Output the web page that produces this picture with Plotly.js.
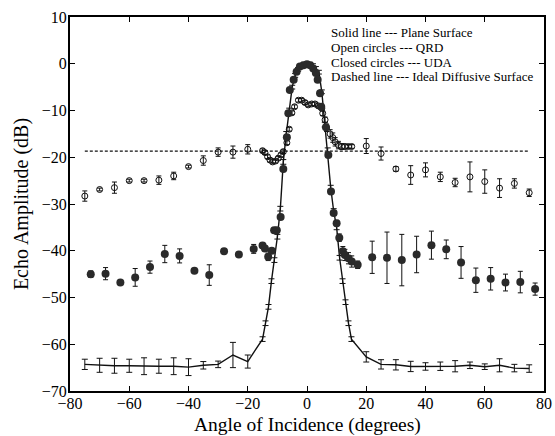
<!DOCTYPE html>
<html>
<head>
<meta charset="utf-8">
<script src="https://cdn.plot.ly/plotly-3.0.1.min.js"></script>
<style>html,body{margin:0;padding:0;background:#fff;}#chart{width:555px;height:436px;}</style>
</head>
<body>
<div id="chart"></div>
<script>
// Plane surface (solid line)
const planeX = [-75,-70,-65,-60,-55,-50,-45,-40,-35,-30,-25,-20,
  -15,-14,-13,-12,-11,-10,-9,-8,-7,-6,-5,-4,-3,-2,-1,0,1,2,3,4,5,6,7,8,9,10,11,12,13,14,15,
  20,25,30,35,40,45,50,55,60,65,70,75];
const planeY = [-64.3,-64.5,-64.6,-64.6,-64.7,-64.7,-64.7,-64.9,-64.5,-64.3,-62.3,-63.7,
  -58.9,-55.5,-52,-46.5,-42,-37,-31,-21,-15,-10,-5,-2.5,-1.2,-0.5,-0.1,0,-0.1,-0.4,-1,-1.8,-6,-13,-18.5,-26.5,-31.5,-35,-41.5,-46.5,-51,-55.5,-58.9,
  -62.7,-64.3,-64.4,-64.75,-64.75,-64.7,-64.7,-64.5,-64.8,-64.5,-65.1,-65.2];
const planeErr = [1.1,1.5,1.6,1.4,1.8,1.5,1.8,1.8,0.8,0.7,2.7,1.4,
  0.5,0.5,0.5,0.5,0.5,0.5,0.5,0.5,0.5,0.5,0.4,0.4,0.4,0.4,0.4,0.4,0.4,0.4,0.4,0.4,0.4,0.5,0.5,0.5,0.5,0.5,0.5,0.5,0.5,0.5,0.5,
  1.1,1.0,1.1,1.1,0.8,0.9,1.2,0.7,0.6,1.4,0.8,0.8];

// QRD (open circles)
const qrdX = [-75,-70,-65,-60,-55,-50,-45,-40,-35,-30,-25,-20,
  -15,-14.2,-13.3,-12.5,-11.6,-10.6,-9.7,-8.8,-8,-6.8,-6,-5.1,-4.2,-2.9,-1.8,-0.7,0.4,1.6,2.7,3.8,5,5.3,6.1,6.6,7.8,8.7,9.5,10.6,11.7,12.8,14,15.1,
  20,25,30,35,40,45,50,55,60,65,70,75];
const qrdY = [-28.3,-26.9,-26.5,-25.0,-25.0,-24.9,-24.0,-22.0,-20.7,-18.9,-18.9,-18.3,
  -18.6,-19,-19.9,-20.6,-21,-20.8,-20.2,-19.5,-18.8,-16.9,-14.0,-10.5,-9.2,-7.8,-7.8,-8.3,-8.8,-8.6,-8.6,-9.0,-9.5,-10.6,-12,-13.7,-15,-15.8,-16.7,-17.4,-17.7,-17.7,-17.7,-17.7,
  -17.6,-19.2,-22.5,-23.8,-22.7,-24.2,-25.4,-24.2,-25.2,-26.6,-25.6,-27.6];
const qrdErr = [1.1,0.3,1.2,0.3,0.3,0.9,0.8,0.3,1.0,0.9,1.3,1.0,
  0.4,0.4,0.4,0.4,0.4,0.4,0.4,0.4,0.4,0.4,0.4,0.4,0.4,0.4,0.4,0.4,0.4,0.4,0.4,0.4,0.4,0.5,0.6,0.8,0.9,1.0,0.9,0.8,0.6,0.5,0.4,0.4,
  1.6,1.4,0.5,2.0,1.5,1.0,0.9,3.2,2.5,2.0,1.0,0.8];

// UDA (closed circles)
const udaX = [-73,-68,-63,-58,-53,-48,-43,-38,-33,-28,-23,-18,
  -15,-14.2,-13.1,-11.9,-11.1,-10.2,-8.9,-8,-6.8,-6.3,-5.8,-4.5,-3.5,-2.4,-1.2,0,1.1,2.1,3,3.6,4.4,4.8,6.4,7.2,8.1,9,10,10.9,12.1,12.8,14,15.1,17.1,
  22,27,32,37,42,47,52,57,62,67,72,77];
const udaY = [-45.0,-44.9,-46.8,-45.7,-43.5,-40.7,-41.1,-44.3,-45.2,-40.1,-40.8,-39.6,
  -38.9,-39.5,-41.3,-40,-35.6,-35.6,-32.8,-22.5,-15.7,-10.6,-5.6,-3.4,-1.7,-0.6,-0.3,-0.1,-0.3,-1,-2,-3.4,-6.3,-9.2,-13.6,-19.5,-27.3,-31.9,-34.1,-37.2,-40.1,-40.9,-41.6,-42.3,-43.0,
  -41.4,-41.5,-42.0,-40.8,-38.8,-39.7,-42.5,-46.3,-46.0,-46.8,-46.7,-48.2];
const udaErr = [0.7,1.3,0.3,1.9,1.3,1.85,1.5,0.3,2.2,0.3,0.3,0.95,
  0.6,0.6,0.8,0.5,0.4,0.4,0.4,0.4,0.4,0.4,0.4,0.3,0.3,0.3,0.3,0.3,0.3,0.3,0.3,0.3,0.3,0.3,0.4,0.4,0.4,0.5,0.6,0.8,1.0,1.2,1.2,1.2,0.8,
  3.45,5.5,5.5,3.9,3.0,2.0,3.4,2.6,2.4,1.8,2.3,1.3];

// Ideal diffusive surface (dashed line)
const idealX = [-75,75];
const idealY = [-18.7,-18.7];

const legendLines = ["Solid line --- Plane Surface","Open circles --- QRD","Closed circles --- UDA","Dashed line --- Ideal Diffusive Surface"];

const serif = "'Liberation Serif', 'Times New Roman', Times, serif";

const traces = [
  {x: idealX, y: idealY, mode: 'lines', line: {color: '#111', width: 1.2, dash: '3px,2px'}, hoverinfo: 'skip'},
  {x: planeX, y: planeY, mode: 'lines', line: {color: '#111', width: 1.4},
   error_y: {type: 'data', array: planeErr, visible: true, color: '#111', thickness: 1, width: 3}},
  {x: qrdX, y: qrdY, mode: 'markers', marker: {symbol: 'circle-open', size: 6, color: '#111', line: {width: 1, color: '#111'}},
   error_y: {type: 'data', array: qrdErr, visible: true, color: '#111', thickness: 1, width: 2.5}},
  {x: udaX, y: udaY, mode: 'markers', marker: {symbol: 'circle', size: 8, color: '#2a2a2a'},
   error_y: {type: 'data', array: udaErr, visible: true, color: '#111', thickness: 1, width: 2.5}}
];

const layout = {
  width: 555, height: 436,
  margin: {l: 70, r: 11, t: 17, b: 45},
  paper_bgcolor: '#fff', plot_bgcolor: '#fff',
  showlegend: false,
  font: {family: serif, color: '#000', size: 16},
  xaxis: {
    range: [-80, 80], dtick: 20, tick0: -80,
    showgrid: false, zeroline: false,
    showline: true, linecolor: '#000', linewidth: 2, mirror: 'ticks',
    ticks: 'inside', ticklen: 5, tickcolor: '#000', tickwidth: 1,
    ticklabelstandoff: -3,
    tickfont: {family: serif, size: 16, color: '#000'}
  },
  yaxis: {
    range: [-70, 10], dtick: 10, tick0: -70,
    showgrid: false, zeroline: false,
    showline: true, linecolor: '#000', linewidth: 2, mirror: 'ticks',
    ticks: 'inside', ticklen: 5, tickcolor: '#000', tickwidth: 1,
    ticklabelstandoff: -2,
    tickfont: {family: serif, size: 16, color: '#000'},
    title: {text: 'Echo Amplitude (dB)', font: {family: serif, size: 20, color: '#000'}, standoff: 8}
  },
  annotations: legendLines.map((t, i) => ({
    text: t, xref: 'paper', yref: 'paper', x: 0.547, y: 1 - (16 + i * 14.5) / 374,
    xanchor: 'left', yanchor: 'middle', showarrow: false,
    font: {family: serif, size: 13, color: '#000'}
  })).concat([{
    text: 'Angle of Incidence (degrees)', xref: 'paper', yref: 'paper', x: 0.5, y: -(424.5 - 391) / 374,
    xanchor: 'center', yanchor: 'middle', showarrow: false,
    font: {family: serif, size: 19.5, color: '#000'}
  }])
};

Plotly.newPlot('chart', traces, layout, {displayModeBar: false, staticPlot: true});
</script>
</body>
</html>
